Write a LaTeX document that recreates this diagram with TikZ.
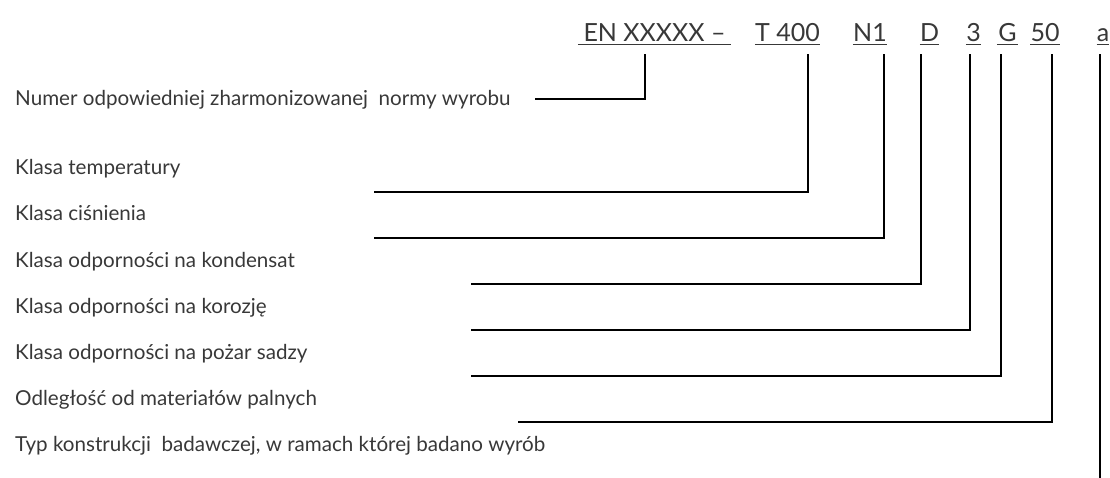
\documentclass[tikz,border=0pt]{standalone}
\usepackage{fontspec}
\setmainfont{Lato}
\definecolor{txt}{HTML}{383838}
\begin{document}
\begin{tikzpicture}[x=1pt,y=-1pt,
  lbl/.style={anchor=base west, inner sep=0pt, font=\fontsize{20.6}{24}\selectfont, text=txt},
  code/.style={anchor=base, inner sep=0pt, font=\fontsize{25}{28}\selectfont, text=txt},
  conn/.style={line width=1.6pt, draw=black, line cap=rect},
  uline/.style={line width=1pt, draw=txt}]
\useasboundingbox (0,0) rectangle (1110,478);
% labels
\node[lbl] (l1) at (15,106) {Numer odpowiedniej zharmonizowanej\ \ normy wyrobu};
\node[lbl] (l2) at (15,175) {Klasa temperatury};
\node[lbl] (l3) at (15,221) {Klasa ciśnienia};
\node[lbl] (l4) at (15,267) {Klasa odporności na kondensat};
\node[lbl] (l5) at (15,313) {Klasa odporności na korozję};
\node[lbl] (l6) at (15,359) {Klasa odporności na pożar sadzy};
\node[lbl] (l7) at (15,405) {Odległość od materiałów palnych};
\node[lbl] (l8) at (15,451) {Typ konstrukcji\ \ badawczej, w ramach której badano wyrób};
% codes
\node[code, minimum width=153] (c1) at (654.5,42) {EN XXXXX –};
\node[code, minimum width=65] (c2) at (787.5,42) {T 400};
\node[code, minimum width=34] (c3) at (870,42) {N1};
\node[code, minimum width=19] (c4) at (929.5,42) {D};
\node[code, minimum width=15] (c5) at (973.5,42) {3};
\node[code, minimum width=21] (c6) at (1007.5,42) {G};
\node[code, minimum width=26] (c7) at (1045,42) {50};
\node[code, minimum width=12] (c8) at (1103,42) {a};
\foreach \c in {c1,c2,c3,c4,c5,c6,c7,c8}
  \draw[uline] ([yshift=-3pt]\c.base west) -- ([yshift=-3pt]\c.base east);
% connector ends
\coordinate (t1) at (645,55);  \coordinate (e1) at (536,99);
\coordinate (t2) at (808,55);  \coordinate (e2) at (375,192);
\coordinate (t3) at (884,55);  \coordinate (e3) at (375,238);
\coordinate (t4) at (921,55);  \coordinate (e4) at (472,284);
\coordinate (t5) at (970,55);  \coordinate (e5) at (472,330);
\coordinate (t6) at (1001,55); \coordinate (e6) at (472,376);
\coordinate (t7) at (1052,55); \coordinate (e7) at (519,422);
\coordinate (t8) at (1100,55); \coordinate (e8) at (1100,478);
\foreach \i in {1,...,7}
  \draw[conn] (t\i) |- (e\i);
\draw[conn] (t8) -- (e8);
\end{tikzpicture}
\end{document}
